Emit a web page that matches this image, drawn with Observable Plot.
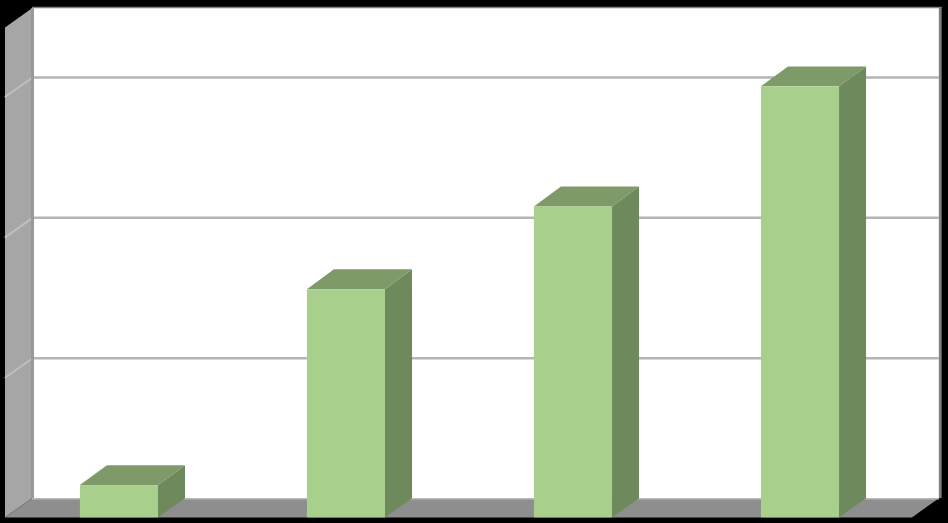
<!DOCTYPE html>
<html>
<head>
<meta charset="utf-8">
<style>html,body{margin:0;padding:0;background:#000;overflow:hidden}svg{display:block}</style>
<script src="https://cdn.jsdelivr.net/npm/d3@7"></script>
<script src="https://cdn.jsdelivr.net/npm/@observablehq/plot@0.6"></script>
</head>
<body>
<div id="chart"></div>
<script>
// Chart values (the reference shows no labels)
const categories = [0, 1, 2, 3];
const values = [0.23, 1.625, 2.215, 3.07];
const gridValues = [1, 2, 3];

// Scale domains and the 3D box, in data units
const xDomain = [-0.524, 3.652];
const yDomain = [-0.04, 3.685];
const barHalf = 0.172;
const depthX = 0.119;
const depthY = 0.137;
const barDepthY = 0.142;
const wallLeft = -0.502;
const floorRight = 3.493;
const wallTop = 3.49;

// A face is two edges; the area mark fills between them
const face = (id, a, b) => [{id, ...a}, {id, ...b}];
const vEdge = (x, y1, y2) => ({x1: x, x2: x, y1, y2});
const hEdge = (y, x1, x2) => ({x1, x2, y1: y, y2: y});
const areaOpts = {x1: "x1", x2: "x2", y1: "y1", y2: "y2", z: "id"};

const backPanel = [{x1: wallLeft + depthX, x2: floorRight + depthX, y1: depthY, y2: wallTop + depthY}];
const rimRight = [{x1: floorRight + depthX, x2: floorRight + depthX + 0.012, y1: depthY, y2: wallTop + depthY + 0.007}];
const rimTop = [{x1: wallLeft + depthX, x2: floorRight + depthX + 0.012, y1: wallTop + depthY, y2: wallTop + depthY + 0.01}];
const wall = face("wall", vEdge(wallLeft, 0, wallTop), vEdge(wallLeft + depthX, depthY, wallTop + depthY));
const floor = face("floor", hEdge(0, wallLeft, floorRight), hEdge(depthY, wallLeft + depthX, floorRight + depthX));
const wallGrid = gridValues.flatMap(v => [
  {id: v, x: wallLeft, y: v},
  {id: v, x: wallLeft + depthX, y: v + depthY}
]);
const sides = categories.flatMap((c, i) =>
  face(c, vEdge(c + barHalf, 0, values[i]), vEdge(c + barHalf + depthX, depthY, values[i] + barDepthY)));
const tops = categories.flatMap((c, i) =>
  face(c, hEdge(values[i], c - barHalf, c + barHalf), hEdge(values[i] + barDepthY, c - barHalf + depthX, c + barHalf + depthX)));

const chart = Plot.plot({
  width: 948,
  height: 523,
  margin: 0,
  style: {background: "#000"},
  x: {domain: xDomain, axis: null},
  y: {domain: yDomain, axis: null},
  marks: [
    Plot.rect(rimTop, {x1: "x1", x2: "x2", y1: "y1", y2: "y2", fill: "#7f7f7f"}),
    Plot.rect(rimRight, {x1: "x1", x2: "x2", y1: "y1", y2: "y2", fill: "#7f7f7f"}),
    Plot.rect(backPanel, {x1: "x1", x2: "x2", y1: "y1", y2: "y2", fill: "#fff"}),
    Plot.ruleY(gridValues, {
      y: d => d + depthY,
      x1: wallLeft + depthX,
      x2: floorRight + depthX,
      stroke: "#b5b5b5",
      strokeWidth: 2.5
    }),
    Plot.area(wall, {...areaOpts, fill: "#a6a6a6"}),
    Plot.line(wallGrid, {x: "x", y: "y", z: "id", stroke: "#bfbfbf", strokeWidth: 2}),
    Plot.ruleX([wallLeft + depthX], {y1: depthY, y2: wallTop + depthY, stroke: "#999", strokeWidth: 3}),
    Plot.area(floor, {...areaOpts, fill: "#8e8e8e"}),
    Plot.ruleY([depthY], {x1: wallLeft + depthX, x2: floorRight + depthX, stroke: "#b9b9b9", strokeWidth: 1.5}),
    Plot.area(sides, {...areaOpts, fill: "#6e895c"}),
    Plot.area(tops, {...areaOpts, fill: "#7d9a68"}),
    Plot.rect(categories.map((c, i) => ({c, v: values[i]})), {
      x1: d => d.c - barHalf,
      x2: d => d.c + barHalf,
      y1: 0,
      y2: "v",
      fill: "#a9cf8c"
    })
  ]
});
document.getElementById("chart").append(chart);
</script>
</body>
</html>
